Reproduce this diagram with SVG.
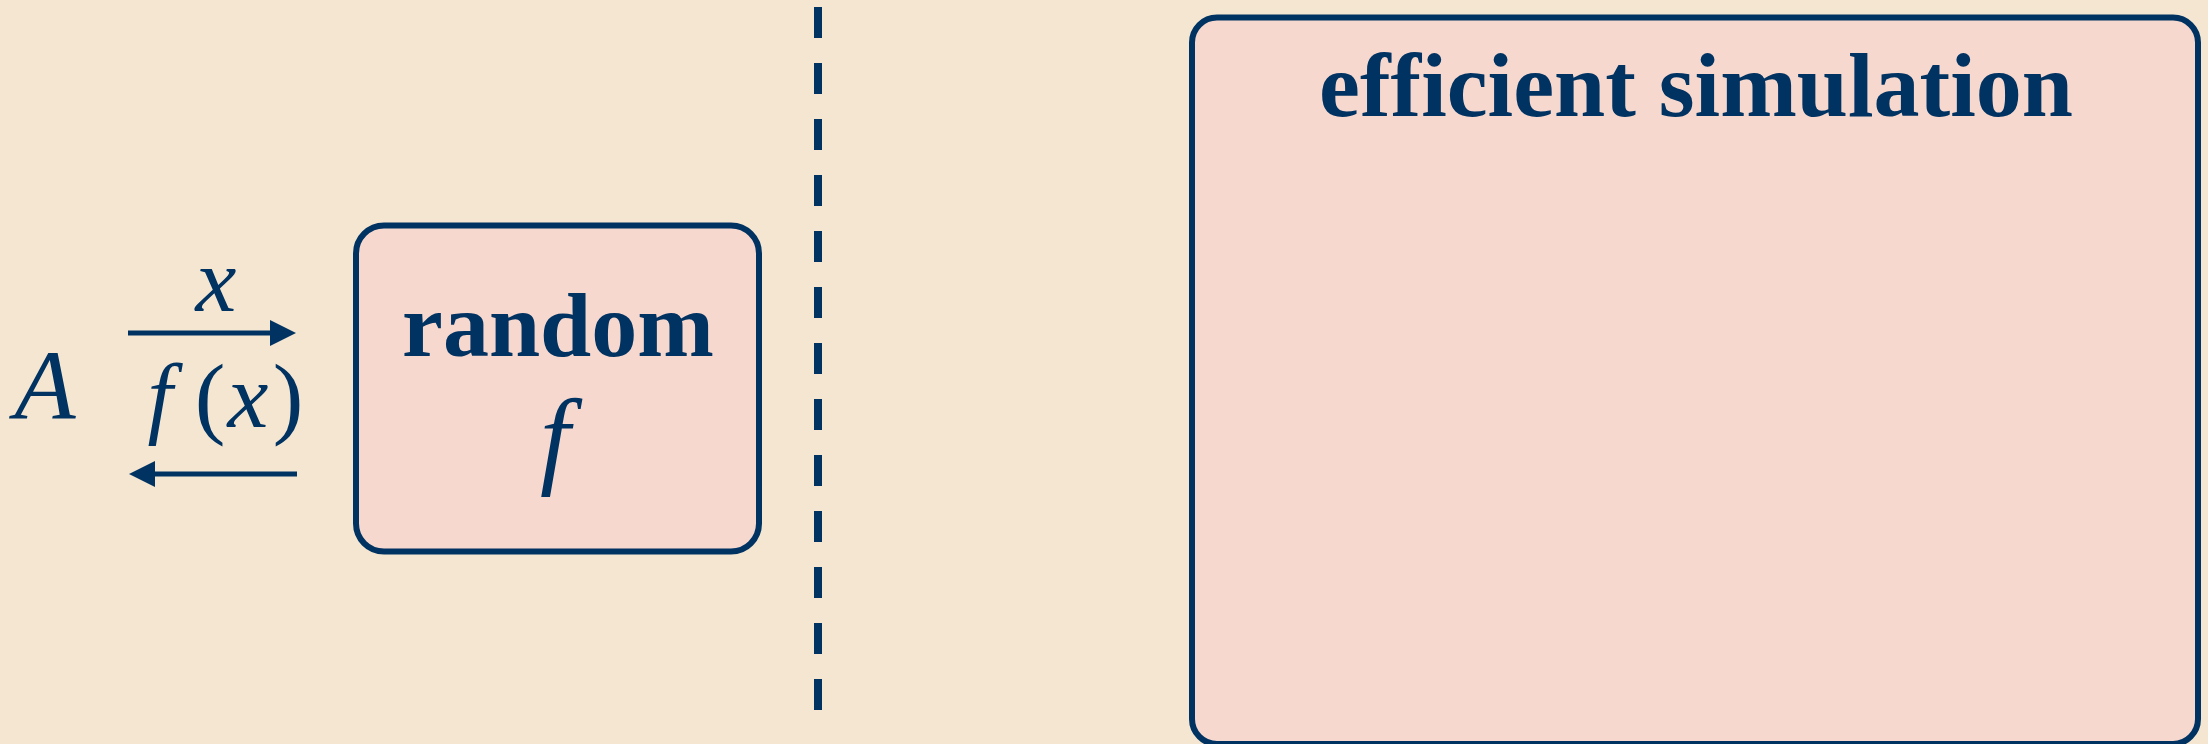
<svg xmlns="http://www.w3.org/2000/svg" width="2208" height="744" viewBox="0 0 2208 744">
  <style>
    .box { fill: #f7d8ce; stroke: #003262; stroke-width: 6; }
    .bold { font-family: "Liberation Serif", "Times New Roman", serif; font-weight: bold; font-size: 92px; fill: #003262; text-anchor: middle; }
    .math { font-family: "Liberation Serif", "Times New Roman", serif; font-style: italic; fill: #003262; text-anchor: middle; }
    .paren { font-family: "Liberation Serif", "Times New Roman", serif; fill: #003262; text-anchor: middle; }
    .edge { stroke: #003262; stroke-width: 5; fill: none; }
    .divider { stroke: #003262; stroke-width: 8; stroke-dasharray: 31 25; fill: none; }
  </style>
  <defs>
    <marker id="head" markerUnits="userSpaceOnUse" markerWidth="26" markerHeight="26" refX="0" refY="13" orient="auto">
      <path d="M0,0 L26,13 L0,26 z" fill="#003262"/>
    </marker>
  </defs>

  <rect width="2208" height="744" fill="#f4e6d1"/>

  <!-- adversary -->
  <g id="adversary">
    <text class="math" x="45" y="419" font-size="100">A</text>
  </g>

  <!-- query / answer channel -->
  <g id="connectors">
    <line class="edge" x1="128" y1="333" x2="270" y2="333" marker-end="url(#head)"/>
    <line class="edge" x1="297" y1="474" x2="155" y2="474" marker-end="url(#head)"/>
  </g>

  <g id="labels">
    <text class="math" x="216" y="311" font-size="92">x</text>
    <text class="math" x="160" y="427" font-size="90">f</text>
    <text class="paren" x="210" y="427" font-size="92">(</text>
    <text class="math" x="248" y="427" font-size="92">x</text>
    <text class="paren" x="288" y="427" font-size="92">)</text>
  </g>

  <!-- random function oracle -->
  <g id="random-f">
    <rect class="box" x="356" y="225.5" width="403" height="326" rx="28"/>
    <text class="bold" x="558" y="356">random</text>
    <text class="math" x="555" y="474" font-size="108">f</text>
  </g>

  <!-- separator -->
  <g id="separator">
    <line class="divider" x1="818" y1="7" x2="818" y2="711"/>
  </g>

  <!-- simulator side -->
  <g id="efficient-simulation">
    <rect class="box" x="1192" y="17.5" width="1006" height="726.5" rx="25"/>
    <text class="bold" x="1696" y="116">efficient simulation</text>
  </g>
</svg>
